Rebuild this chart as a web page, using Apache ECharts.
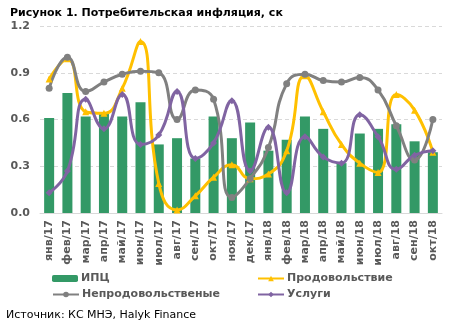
<!DOCTYPE html>
<html><head><meta charset="utf-8">
<script src="https://cdn.jsdelivr.net/npm/echarts@6/dist/echarts.min.js"></script>
<style>html,body{margin:0;padding:0;background:#fff}#c{width:449px;height:327px}</style>
</head><body><div id="c"></div>
<script>
var categories = ['янв/17','фев/17','мар/17','апр/17','май/17','июн/17','июл/17','авг/17','сен/17','окт/17','ноя/17','дек/17','янв/18','фев/18','мар/18','апр/18','май/18','июн/18','июл/18','авг/18','сен/18','окт/18'];
var cpi     = [0.61,0.77,0.62,0.64,0.62,0.71,0.44,0.48,0.35,0.62,0.48,0.58,0.40,0.47,0.62,0.54,0.32,0.51,0.54,0.57,0.46,0.39];
var food    = [0.86,0.99,0.65,0.64,0.80,1.10,0.19,0.02,0.11,0.23,0.31,0.22,0.25,0.40,0.88,0.65,0.44,0.32,0.26,0.76,0.66,0.39];
var nonfood = [0.80,1.00,0.78,0.84,0.89,0.91,0.90,0.60,0.79,0.73,0.10,0.22,0.42,0.83,0.89,0.85,0.84,0.87,0.79,0.56,0.34,0.60];
var services= [0.13,0.27,0.73,0.54,0.76,0.44,0.50,0.78,0.35,0.45,0.72,0.27,0.55,0.13,0.49,0.36,0.32,0.63,0.49,0.28,0.37,0.40];
var yTicks = {min:0, max:1.2, interval:0.3};

var F = 'DejaVu Sans';
function lg(name, left, top){
  return {data:[name],left:left,top:top,itemWidth:26,itemHeight:7,itemGap:0,padding:0,
    textStyle:{fontSize:11,fontWeight:'bold',color:'#595959',fontFamily:F,padding:[0,0,0,-2]}};
}
var chart = echarts.init(document.getElementById('c'));
chart.setOption({
  animation:false,
  textStyle:{fontFamily:F},
  title:{text:'Рисунок 1. Потребительская инфляция, ск',left:5,top:3,textStyle:{fontSize:11,fontWeight:'bold',color:'#000',fontFamily:F}},
  graphic:[{type:'text',left:6,top:310,style:{text:'Источник: КС МНЭ, Halyk Finance',fontSize:11,fontFamily:F,fill:'#000'}}],
  grid:{left:40,right:7,top:26,bottom:114},
  legend:[
    lg('ИПЦ',52,273),
    lg('Продовольствие',257,273),
    lg('Непродовольственые',52,289),
    lg('Услуги',257,289)
  ],
  xAxis:{type:'category',data:categories,
    axisLine:{lineStyle:{color:'#d9d9d9'}},
    axisTick:{length:5,lineStyle:{color:'#d9d9d9'}},
    axisLabel:{rotate:90,interval:0,hideOverlap:false,fontSize:11,fontWeight:'bold',color:'#595959',margin:7,fontFamily:F}},
  yAxis:{type:'value',min:yTicks.min,max:yTicks.max,interval:yTicks.interval,
    axisLine:{show:false},axisTick:{show:false},
    axisLabel:{fontSize:11,fontWeight:'bold',color:'#595959',margin:10,formatter:function(v){return v.toFixed(1);},fontFamily:F},
    splitLine:{lineStyle:{color:'#d9d9d9',type:[4,3],width:1}}},
  series:[
    {name:'ИПЦ',type:'bar',data:cpi,barWidth:10,itemStyle:{color:'#339966'}},
    {name:'Продовольствие',type:'line',data:food,smooth:0.5,symbol:'triangle',symbolSize:7,
     lineStyle:{color:'#FFC000',width:3},itemStyle:{color:'#FFC000'}},
    {name:'Непродовольственые',type:'line',data:nonfood,smooth:0.5,symbol:'circle',symbolSize:7,
     lineStyle:{color:'#808080',width:3},itemStyle:{color:'#808080'}},
    {name:'Услуги',type:'line',data:services,smooth:0.5,symbol:'diamond',symbolSize:7,
     lineStyle:{color:'#8064A2',width:3},itemStyle:{color:'#8064A2'}}
  ]
});
</script></body></html>
